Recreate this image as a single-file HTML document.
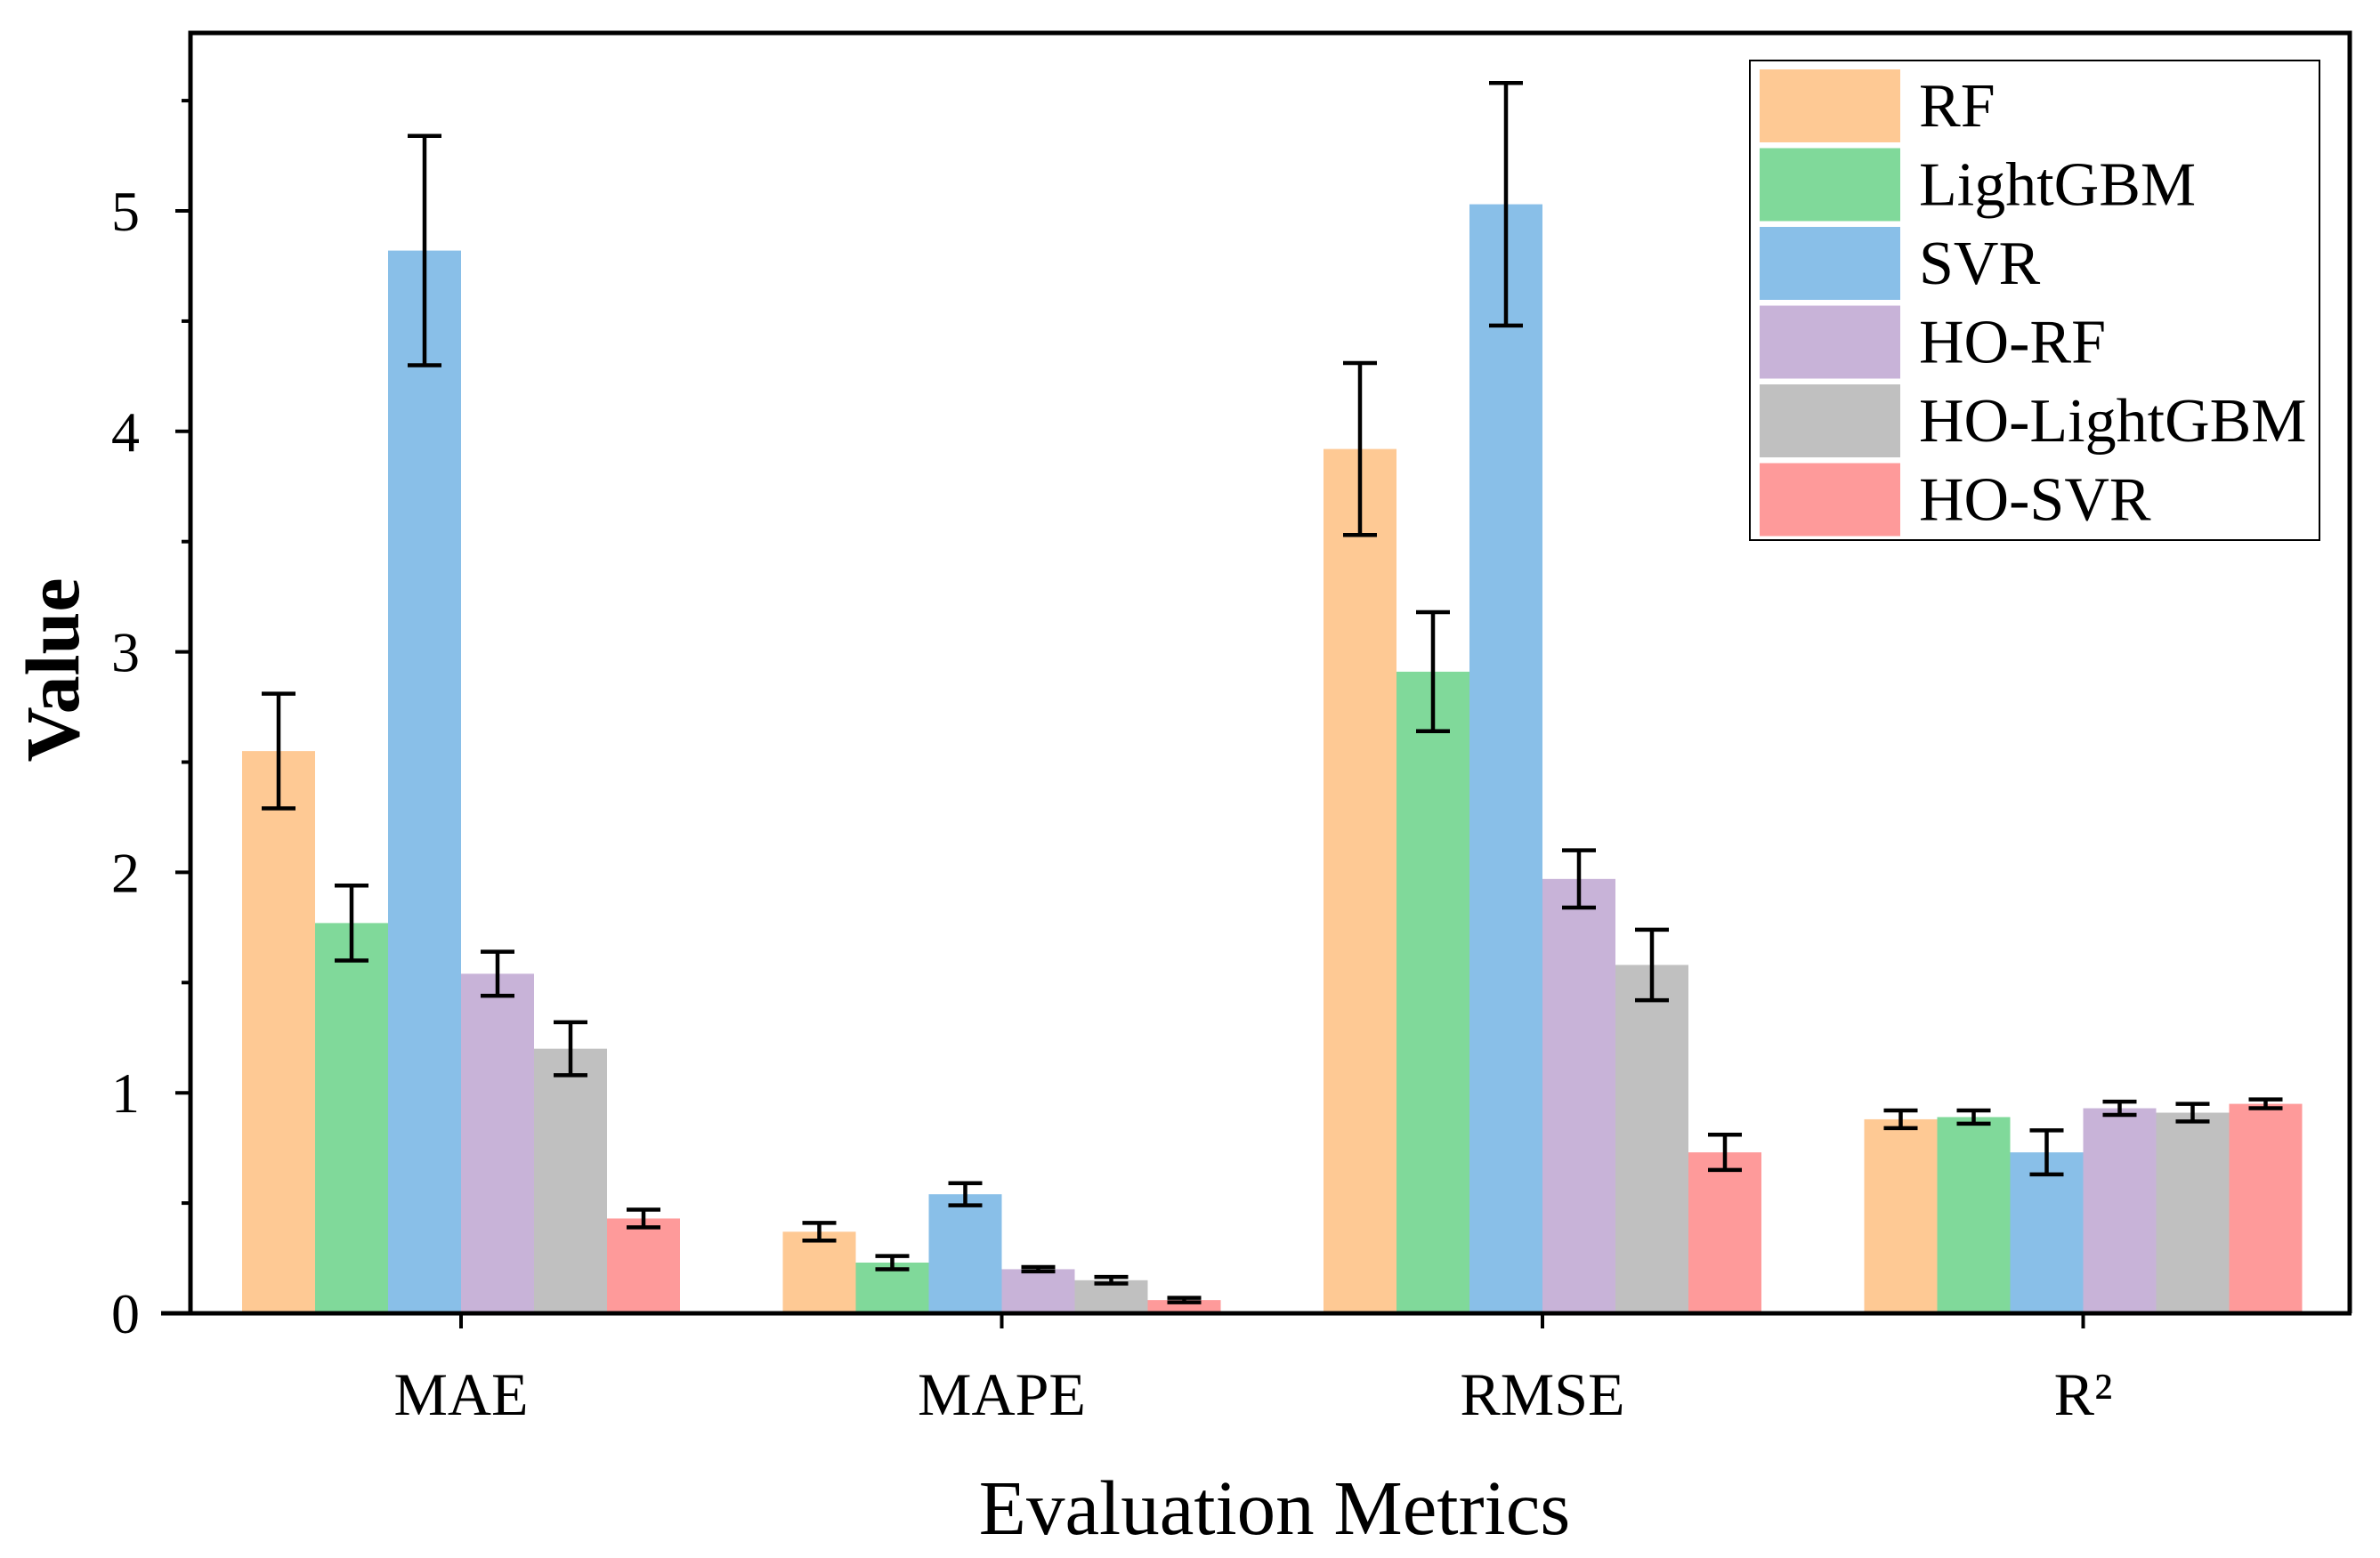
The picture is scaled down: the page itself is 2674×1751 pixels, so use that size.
<!DOCTYPE html>
<html><head><meta charset="utf-8"><style>
html,body{margin:0;padding:0;background:#fff;}
svg{display:block;}
text{font-family:"Liberation Serif","Times New Roman",serif;fill:#000;}
</style></head><body>
<svg id="chart" width="2674" height="1751" viewBox="0 0 2674 1751" xmlns="http://www.w3.org/2000/svg">
<g id="bars"></g>
<g id="axes"></g>
<g id="legend"></g>
</svg>
<script>
const categories = ["MAE", "MAPE", "RMSE", "R²"];
const seriesNames = ["RF", "LightGBM", "SVR", "HO-RF", "HO-LightGBM", "HO-SVR"];
const seriesColors = ["#FEC994", "#80D99A", "#89BFE8", "#C8B3D8", "#C0C0C0", "#FE9A9A"];
const valRF = [2.55, 0.37, 3.92, 0.88];
const valLGBM = [1.77, 0.23, 2.91, 0.89];
const valSVR = [4.82, 0.54, 5.03, 0.73];
const valHORF = [1.54, 0.20, 1.97, 0.93];
const valHOLGBM = [1.20, 0.15, 1.58, 0.91];
const valHOSVR = [0.43, 0.06, 0.73, 0.95];
const errRF = [0.26, 0.04, 0.39, 0.04];
const errLGBM = [0.17, 0.03, 0.27, 0.03];
const errSVR = [0.52, 0.05, 0.55, 0.10];
const errHORF = [0.10, 0.01, 0.13, 0.03];
const errHOLGBM = [0.12, 0.015, 0.16, 0.04];
const errHOSVR = [0.04, 0.01, 0.08, 0.02];
const yTicks = [0, 1, 2, 3, 4, 5];
const yMinorTicks = [0.5, 1.5, 2.5, 3.5, 4.5, 5.5];

const values = [valRF, valLGBM, valSVR, valHORF, valHOLGBM, valHOSVR];
const errors = [errRF, errLGBM, errSVR, errHORF, errHOLGBM, errHOSVR];
const NS = "http://www.w3.org/2000/svg";
const L = 214, R = 2640, T = 37, B = 1476;
const unit = 247.8;
const y = v => B - v * unit;
const groupStart = 518, groupStep = 607.5, barW = 82;
const xc = i => groupStart + i * groupStep;
function mk(tag, attrs, parent) {
  const e = document.createElementNS(NS, tag);
  for (const k in attrs) e.setAttribute(k, attrs[k]);
  parent.appendChild(e);
  return e;
}
const gb = document.getElementById("bars");
const ga = document.getElementById("axes");
const gl = document.getElementById("legend");
values.forEach((arr, s) => {
  arr.forEach((v, c) => {
    const x0 = xc(c) - 3 * barW + s * barW;
    const r = mk("rect", {x: x0, y: y(v), width: barW, height: B - y(v), fill: seriesColors[s]}, gb);
    
    
    const cx = x0 + barW / 2, e = errors[s][c];
    const eb = mk("path", {d: `M${cx - 19},${y(v + e)}H${cx + 19}M${cx},${y(v + e)}V${y(v - e)}M${cx - 19},${y(v - e)}H${cx + 19}`, stroke: "#000", "stroke-width": 4.5, fill: "none"}, gb);
    
    
  });
});
const fr = mk("path", {d: `M${L},${B}V${T}H${R}V${B}`, stroke: "#000", "stroke-width": 5, fill: "none"}, ga);


const xa = mk("line", {x1: 181, x2: R + 2, y1: B, y2: B, stroke: "#000", "stroke-width": 5}, ga);


yTicks.forEach(t => {
  const tk = mk("line", {x1: L - 17, x2: L, y1: y(t), y2: y(t), stroke: "#000", "stroke-width": 4}, ga);
  
  
  const lb = mk("text", {x: 157, y: y(t) + 22, "text-anchor": "end", "font-size": 64}, ga);
  lb.textContent = t;
  
  
});
yMinorTicks.forEach(t => {
  const tk = mk("line", {x1: L - 10, x2: L, y1: y(t), y2: y(t), stroke: "#000", "stroke-width": 4}, ga);
  
  
});
categories.forEach((c, i) => {
  const tk = mk("line", {x1: xc(i), x2: xc(i), y1: B, y2: B + 17, stroke: "#000", "stroke-width": 4}, ga);
  
  
  const lb = mk("text", {x: xc(i), y: 1590, "text-anchor": "middle", "font-size": 68}, ga);
  lb.textContent = c;
  
  
});
const xt = mk("text", {x: 1432, y: 1724, "text-anchor": "middle", "font-size": 87}, ga);
xt.textContent = "Evaluation Metrics";


const yt = mk("text", {x: 0, y: 0, "text-anchor": "middle", "font-size": 86, "font-weight": "bold", transform: "translate(88,753) rotate(-90)"}, ga);
yt.textContent = "Value";


const lbx = mk("rect", {x: 1966, y: 68, width: 640, height: 539, fill: "#fff", stroke: "#000", "stroke-width": 2}, gl);


seriesNames.forEach((n, i) => {
  const yy = 78 + i * 88.5;
  const sw = mk("rect", {x: 1977, y: yy, width: 158, height: 82, fill: seriesColors[i]}, gl);
  
  
  const tx = mk("text", {x: 2156, y: yy + 64, "font-size": 70}, gl);
  tx.textContent = n;
  
  
});
</script>
</body></html>
